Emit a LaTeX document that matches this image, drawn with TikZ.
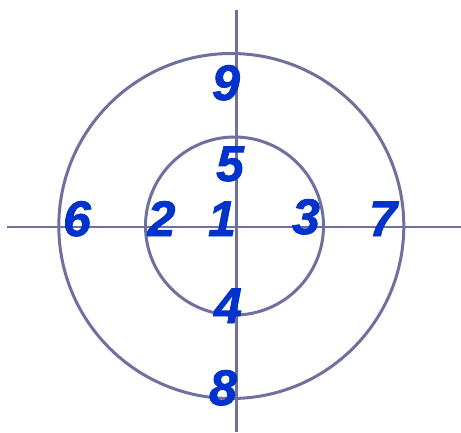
\documentclass[tikz,border=0pt]{standalone}
\usepackage{fontspec}
\setmainfont{Liberation Sans}
\newfontface\digitfont{Liberation Sans Bold Italic}[FakeBold=1.6]
\definecolor{linec}{HTML}{7070A0}
\definecolor{digitc}{HTML}{0033CC}
\begin{document}
\begin{tikzpicture}[x=1pt,y=-1pt,
  axis/.style={draw=linec,line width=2.9pt},
  ring/.style={draw=linec,line width=3pt},
  digit/.style={anchor=base,inner sep=0pt,text=digitc,font=\fontsize{50}{50}\digitfont}]
\useasboundingbox (0,0) rectangle (461,432);
\coordinate (hl) at (7,227);
\coordinate (hr) at (461,227);
\coordinate (vt) at (236.5,10);
\coordinate (vb) at (236.5,432);
\coordinate (oc) at (231.3,226);
\coordinate (ic) at (234.5,226);
\draw[axis] (hl) -- (hr);
\draw[axis] (vt) -- (vb);
\draw[ring] (oc) circle[radius=172.5];
\draw[ring] (ic) circle[radius=89];
\node[digit] (n9) at (226,100) {9};
\node[digit] (n5) at (230,181) {5};
\node[digit] (n6) at (77,236) {6};
\node[digit] (n2) at (161.5,236) {2};
\node[digit] (n1) at (222,236) {1};
\node[digit] (n3) at (306,234) {3};
\node[digit] (n7) at (383,236) {7};
\node[digit] (n4) at (228,323) {4};
\node[digit] (n8) at (223,405) {8};
\end{tikzpicture}
\end{document}
